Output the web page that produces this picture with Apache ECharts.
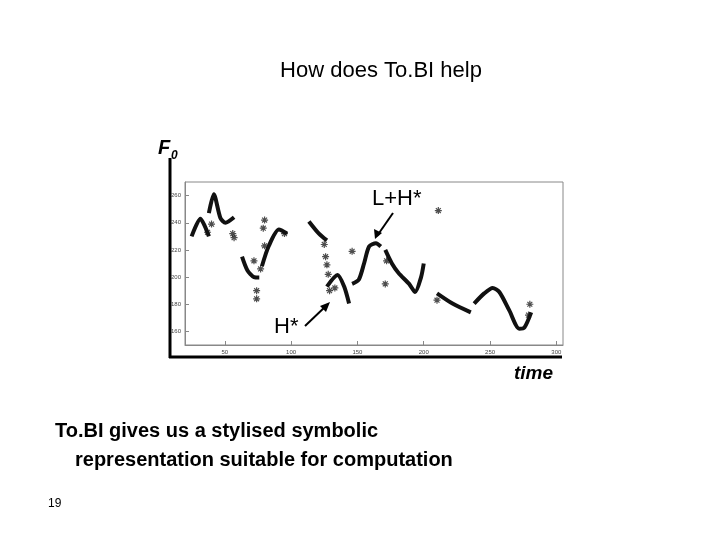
<!DOCTYPE html><html><head><meta charset="utf-8"><script src="https://cdn.jsdelivr.net/npm/echarts@6/dist/echarts.min.js"></script>
<style>body{margin:0;background:#fff}#c{width:720px;height:540px}</style></head><body><div id="c"></div><script>
const segments=[
[[25,230],[31.6,243],[38,230]],
[[38,247],[41.7,261],[46.7,243.5],[50.5,240],[57,244]],
[[63,215],[67,205],[72,200],[76,199.7]],
[[78,208],[83,222.5],[90.8,235],[97,232]],
[[113.4,241],[121,232],[127,227]],
[[127,193],[135,201.5],[140,193],[143.7,180.5]],
[[146,195],[151,198],[155,210],[158.8,222.5],[164,225],[167.6,222.5]],
[[171,220],[176,210],[181,203],[189,195],[193.5,189],[198,200],[200,210]],
[[210,188],[221.7,180.5],[235.5,174]],
[[238,180.5],[245.6,188],[252,192],[257,189],[264.5,175.5],[272,162],[276,163],[281,174]]];
const outliers=[[37,233],[40,239],[56,232],[57,229],[72,212],[74,190],[74,184],[77,206],[79,236],[80,242],[80,223],[95,232],[125,224],[126,215],[127,209],[128,202],[129,190],[133,192],[146,219],[171,195],[172,212],[211,249],[280,180],[279,172],[210,183]];
const xTicks=[50,100,150,200,250,300];
const yTicks=[160,180,200,220,240,260];
const series=segments.map(s=>({type:'line',data:s,smooth:0.25,showSymbol:false,lineStyle:{color:'#111',width:4},silent:true}));
series.push({type:'scatter',data:outliers,symbol:'path://M0,-5L0,5M-5,0L5,0M-3.5,-3.5L3.5,3.5M-3.5,3.5L3.5,-3.5',symbolSize:7,itemStyle:{color:'none',borderColor:'#222',borderWidth:1.2}});
const ch=echarts.init(document.getElementById('c'));
ch.setOption({animation:false,
grid:{left:185,top:182,width:378,height:163,show:true,borderColor:'#888',borderWidth:1},
xAxis:{type:'value',min:20,max:305,splitLine:{show:false},axisLine:{lineStyle:{color:'#888'}},
 axisTick:{inside:true,length:4,customValues:xTicks,lineStyle:{color:'#888'}},
 axisLabel:{fontSize:6,color:'#444',margin:4,customValues:xTicks}},
yAxis:{type:'value',min:150,max:270,splitLine:{show:false},axisLine:{lineStyle:{color:'#888'}},
 axisTick:{inside:true,length:4,customValues:yTicks,lineStyle:{color:'#888'}},
 axisLabel:{fontSize:6,color:'#444',margin:4,customValues:yTicks}},
series:series,
graphic:[
{type:'text',x:381,y:60,style:{text:'How does To.BI help',font:'22px "Liberation Sans", Arial',fill:'#000',align:'center'}},
{type:'line',shape:{x1:170,y1:158,x2:170,y2:358},style:{stroke:'#000',lineWidth:3}},
{type:'line',shape:{x1:169,y1:357,x2:562,y2:357},style:{stroke:'#000',lineWidth:3}},
{type:'text',x:158,y:138,style:{text:'F',font:'italic bold 20px "Liberation Sans"',fill:'#000'}},
{type:'text',x:171,y:150,style:{text:'0',font:'italic bold 12px "Liberation Sans"',fill:'#000'}},
{type:'text',x:514,y:364,style:{text:'time',font:'italic bold 19px "Liberation Sans"',fill:'#000'}},
{type:'text',x:372,y:188,style:{text:'L+H*',font:'22px "Liberation Sans"',fill:'#000'}},
{type:'text',x:274,y:316,style:{text:'H*',font:'22px "Liberation Sans"',fill:'#000'}},
{type:'line',shape:{x1:393,y1:213,x2:377,y2:236},style:{stroke:'#000',lineWidth:2}},
{type:'polygon',shape:{points:[[375,239],[374,229],[382,233]]},style:{fill:'#000'}},
{type:'line',shape:{x1:305,y1:326,x2:327,y2:305},style:{stroke:'#000',lineWidth:2}},
{type:'polygon',shape:{points:[[330,302],[320,306],[326,312]]},style:{fill:'#000'}},
{type:'text',x:55,y:421,style:{text:'To.BI gives us a stylised symbolic',font:'bold 20px "Liberation Sans"',fill:'#000'}},
{type:'text',x:75,y:450,style:{text:'representation suitable for computation',font:'bold 20px "Liberation Sans"',fill:'#000'}},
{type:'text',x:48,y:498,style:{text:'19',font:'12px "Liberation Sans"',fill:'#000'}}
]});
</script></body></html>
